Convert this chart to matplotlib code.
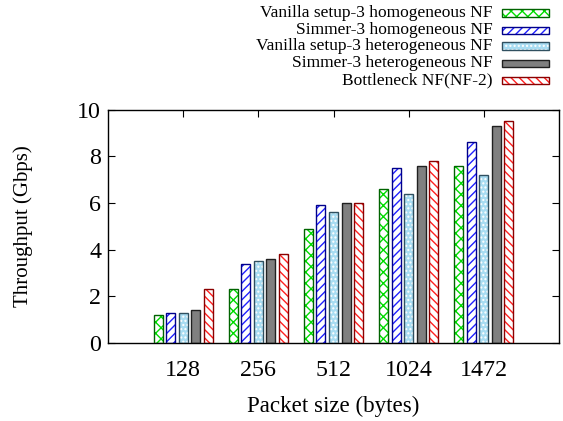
import matplotlib
matplotlib.use("Agg")
import matplotlib.pyplot as plt
import numpy as np

packet_sizes = ["128", "256", "512", "1024", "1472"]
series_names = [
    "Vanilla setup-3 homogeneous NF",
    "Simmer-3 homogeneous NF",
    "Vanilla setup-3 heterogeneous NF",
    "Simmer-3 heterogeneous NF",
    "Bottleneck NF(NF-2)",
]
vanilla_homo = [1.2, 2.3, 4.9, 6.6, 7.6]
simmer_homo = [1.3, 3.4, 5.9, 7.5, 8.6]
vanilla_hetero = [1.3, 3.5, 5.6, 6.4, 7.2]
simmer_hetero = [1.4, 3.6, 6.0, 7.6, 9.3]
bottleneck = [2.3, 3.8, 6.0, 7.8, 9.5]
series_values = [vanilla_homo, simmer_homo, vanilla_hetero, simmer_hetero, bottleneck]

# (face, hatch colour, hatch, outline)
styles = [
    ("white", "#00dd00", "xxx", "#006400"),
    ("white", "#2020ff", "////", "#00008b"),
    ("#a8dcf2", "white", "....", "#305060"),
    ("#808080", "#808080", "", "#202020"),
    ("white", "#ff2020", "\\\\\\\\", "#8b0000"),
]

plt.rcParams["font.family"] = ["Liberation Serif", "DejaVu Serif"]
plt.rcParams["hatch.linewidth"] = 1.0

fig = plt.figure(figsize=(5.63, 4.21), dpi=100)
ax = fig.add_axes([108 / 563, 1 - 343 / 421, (559 - 108) / 563, (343 - 109.5) / 421])

x = np.arange(len(packet_sizes))
step = 1 / 6
width = 0.12
for i, (vals, (face, hcol, hatch, edge)) in enumerate(zip(series_values, styles)):
    pos = x + (i - 2) * step
    ax.bar(pos, vals, width, color=face, edgecolor=hcol, hatch=hatch, linewidth=0, zorder=2)
    ax.bar(pos, vals, width, facecolor="none", edgecolor=edge, linewidth=1.0, zorder=3)

ax.set_xlim(-1, 5)
ax.set_ylim(0, 10)
ax.set_xticks(x)
ax.set_xticklabels(packet_sizes)
ax.set_yticks([0, 2, 4, 6, 8, 10])
ax.tick_params(direction="in", length=5, width=0.8, labelsize=17.3, top=True, right=True)
ax.tick_params(axis="y", pad=5)
ax.tick_params(axis="x", pad=12)
for s in ax.spines.values():
    s.set_linewidth(1.0)
ax.set_xlabel("Packet size (bytes)", fontsize=16.6, labelpad=11)
ax.set_ylabel("Throughput (Gbps)", fontsize=15, labelpad=32)

# Legend drawn above the plot area: right-aligned text with sample boxes
ys = [13, 30, 46, 63, 80]
for name, (face, hcol, hatch, edge), yp in zip(series_names, styles, ys):
    fy = 1 - yp / 421
    fig.text(493 / 563, fy, name, ha="right", va="center", fontsize=12.5)
    x0, y0, w, h = 502 / 563, fy - 3.5 / 421, 47 / 563, 7 / 421
    r1 = matplotlib.patches.Rectangle((x0, y0), w, h, transform=fig.transFigure,
                                      facecolor=face, edgecolor=hcol, hatch=hatch, linewidth=0)
    r2 = matplotlib.patches.Rectangle((x0, y0), w, h, transform=fig.transFigure,
                                      facecolor="none", edgecolor=edge, linewidth=1.0)
    fig.patches.extend([r1, r2])

fig.savefig("out.png", dpi=100)
